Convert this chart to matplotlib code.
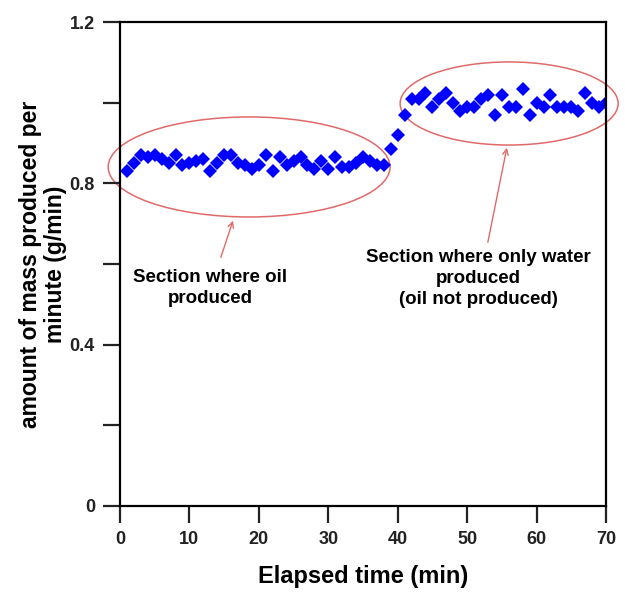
import matplotlib
matplotlib.use("Agg")
from matplotlib import pyplot as plt
from matplotlib.patches import Ellipse
from matplotlib.ticker import MultipleLocator

plt.rcParams['font.family'] = ['Liberation Sans', 'DejaVu Sans']
plt.rcParams['font.weight'] = 'bold'

# elapsed time (min) and mass rate (g/min)
time_oil = list(range(1, 39))
mass_oil = [0.83, 0.85, 0.87, 0.865, 0.87, 0.86, 0.85, 0.87, 0.845, 0.85,
            0.855, 0.86, 0.83, 0.85, 0.87, 0.87, 0.85, 0.845, 0.835, 0.845,
            0.87, 0.83, 0.865, 0.845, 0.855, 0.865, 0.845, 0.835, 0.855, 0.835,
            0.865, 0.84, 0.84, 0.85, 0.865, 0.855, 0.845, 0.845]

time_water = list(range(39, 71))
mass_water = [0.885, 0.92, 0.97, 1.01, 1.01, 1.025, 0.99, 1.01, 1.025, 1.0,
              0.98, 0.99, 0.99, 1.01, 1.02, 0.97, 1.02, 0.99, 0.99, 1.035,
              0.97, 1.0, 0.99, 1.02, 0.99, 0.99, 0.99, 0.98, 1.025, 1.0,
              0.99, 1.0]

x_ticks = [0, 10, 20, 30, 40, 50, 60, 70]
y_ticks = [0, 0.4, 0.8, 1.2]
y_tick_labels = ["0", "0.4", "0.8", "1.2"]

red = "#e06a6a"

fig = plt.figure(figsize=(6.25, 5.92), dpi=100)
ax = fig.add_axes([0.192, 0.1453, 0.7776, 0.8175])

ax.plot(time_oil + time_water, mass_oil + mass_water, linestyle="none",
        marker="D", markersize=7.5, color="#0000ff", markeredgewidth=0)

ax.set_xlim(0, 70)
ax.set_ylim(0, 1.2)
ax.set_xticks(x_ticks)
ax.set_yticks(y_ticks)
ax.set_yticklabels(y_tick_labels)
ax.yaxis.set_minor_locator(MultipleLocator(0.2))

for s in ax.spines.values():
    s.set_linewidth(1.6)
ax.tick_params(axis="both", which="both", direction="out", length=12,
               width=1.6, labelsize=13, colors="#222222", pad=6)
ax.tick_params(axis="y", which="minor", length=12)

ax.set_xlabel("Elapsed time (min)", fontsize=17, fontweight="bold", labelpad=12)
ax.set_ylabel("amount of mass produced per\nminute (g/min)", fontsize=16.5,
              fontweight="bold", labelpad=2, linespacing=1.1)

# circled sections
ax.add_patch(Ellipse((18.6, 0.8406), 40.6, 0.248, fill=False, edgecolor=red,
                     linewidth=1.1, clip_on=False))
ax.add_patch(Ellipse((56.05, 0.998), 31.4, 0.206, fill=False, edgecolor=red,
                     linewidth=1.1, clip_on=False))

arrow = dict(arrowstyle="->", color=red, linewidth=1.0)
ax.annotate("", xy=(16.4, 0.714), xytext=(14.4, 0.61), arrowprops=arrow)
ax.annotate("", xy=(55.8, 0.895), xytext=(52.9, 0.647), arrowprops=arrow)

ax.text(12.97, 0.5405, "Section where oil\nproduced", ha="center", va="center",
        fontsize=13.5, fontweight="bold", linespacing=1.3)
ax.text(51.6, 0.565, "Section where only water\nproduced\n(oil not produced)",
        ha="center", va="center", fontsize=13.5, fontweight="bold", linespacing=1.3)

fig.savefig("out.png", dpi=100)
